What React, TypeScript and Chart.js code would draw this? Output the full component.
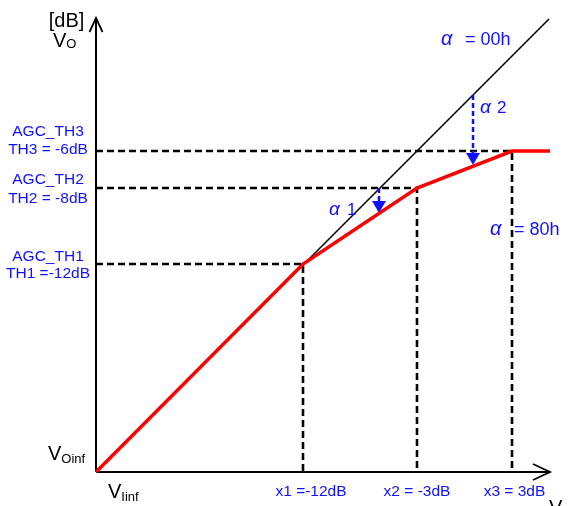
import React, { useEffect, useRef } from "react";
import { Chart, registerables } from "chart.js";

Chart.register(...registerables);

// Diagram units (origin = V_Iinf / V_Oinf)
const curveIn = [0, 207, 321, 416, 454];
const curveOut = [0, 208, 284, 321, 321];
const unityIn = [0, 453];
const unityOut = [0, 453];
const kneeIn = [207, 321, 416];
const kneeOut = [208, 284, 321];
const kneeLabels = ["x1 =-12dB", "x2 = -3dB", "x3 = 3dB"];
const thNames = ["AGC_TH1", "AGC_TH2", "AGC_TH3"];
const thLabels = ["TH1 =-12dB", "TH2 = -8dB", "TH3 = -6dB"];
const alphaX = [283, 377];
const alphaTop = [284, 377];
const alphaTip = [259, 307];
const alphaNames = ["1", "2"];
const alphaSettings = ["= 00h", "= 80h"];
const axisLen = 454;

const BLUE = "#1010ff";
const SANS = "'Liberation Sans', Arial, sans-serif";

type Lbl = {
  t: string;
  x: number;
  y: number;
  size: number;
  color: string;
  align?: CanvasTextAlign;
  italic?: boolean;
  sub?: string;
  subSize?: number;
  subDy?: number;
};

const labels: Lbl[] = [
  { t: "[dB]", x: -29.5, y: 445, size: 20, color: "#000", align: "center" },
  { t: "V", x: -43, y: 425, size: 20, color: "#000", sub: "O", subSize: 13, subDy: 1 },
  { t: "V", x: -48, y: 12, size: 20, color: "#000", sub: "Oinf", subSize: 13, subDy: 3 },
  { t: "V", x: 12, y: -26, size: 20, color: "#000", sub: "Iinf", subSize: 13, subDy: 3 },
  { t: "V", x: 453, y: -42, size: 20, color: "#000", sub: "I", subSize: 13, subDy: 3 },
  { t: thNames[0], x: -48, y: 211, size: 15.5, color: BLUE, align: "center" },
  { t: thLabels[0], x: -48, y: 194, size: 15.5, color: BLUE, align: "center" },
  { t: thNames[1], x: -48, y: 288, size: 15.5, color: BLUE, align: "center" },
  { t: thLabels[1], x: -48, y: 269, size: 15.5, color: BLUE, align: "center" },
  { t: thNames[2], x: -48, y: 336, size: 15.5, color: BLUE, align: "center" },
  { t: thLabels[2], x: -48, y: 318, size: 15.5, color: BLUE, align: "center" },
  { t: kneeLabels[0], x: 215, y: -24, size: 15.5, color: BLUE, align: "center" },
  { t: kneeLabels[1], x: 321, y: -24, size: 15.5, color: BLUE, align: "center" },
  { t: kneeLabels[2], x: 418.5, y: -24, size: 15.5, color: BLUE, align: "center" },
  { t: "α", x: 345, y: 427, size: 20, color: BLUE, italic: true },
  { t: alphaSettings[0], x: 369, y: 427, size: 18, color: BLUE },
  { t: "α", x: 384, y: 359, size: 19, color: BLUE, italic: true },
  { t: alphaNames[1], x: 401, y: 359, size: 17, color: BLUE },
  { t: "α", x: 233, y: 257, size: 19, color: BLUE, italic: true },
  { t: alphaNames[0], x: 251, y: 257, size: 17, color: BLUE },
  { t: "α", x: 394, y: 237, size: 20, color: BLUE, italic: true },
  { t: alphaSettings[1], x: 418, y: 237, size: 18, color: BLUE },
];

const textPlugin = {
  id: "diagramText",
  afterDatasetsDraw(chart: any) {
    const { ctx, scales } = chart;
    ctx.save();
    ctx.textBaseline = "alphabetic";
    for (const l of labels) {
      const px = scales.x.getPixelForValue(l.x);
      const py = scales.y.getPixelForValue(l.y);
      ctx.fillStyle = l.color;
      ctx.textAlign = l.align || "left";
      ctx.font = `${l.italic ? "italic " : ""}${l.size}px ${SANS}`;
      ctx.fillText(l.t, px, py);
      if (l.sub) {
        const w = ctx.measureText(l.t).width;
        ctx.font = `${l.subSize}px ${SANS}`;
        ctx.textAlign = "left";
        ctx.fillText(l.sub, px + w, py + (l.subDy || 0));
      }
    }
    ctx.restore();
  },
};

const line = (pts: { x: number; y: number }[], color: string, width: number, order: number, dash: number[] = []) => ({
  type: "line" as const,
  data: pts,
  borderColor: color,
  borderWidth: width,
  borderDash: dash,
  pointRadius: 0,
  fill: false,
  tension: 0,
  order,
});

export default function App() {
  const ref = useRef<HTMLCanvasElement>(null);
  useEffect(() => {
    if (!ref.current) return;
    const datasets: any[] = [];
    datasets.push(line(curveIn.map((x, i) => ({ x, y: curveOut[i] })), "#ff0000", 3.5, 0));
    alphaX.forEach((x, i) => {
      const r = 8;
      datasets.push(line([{ x, y: alphaTop[i] }, { x, y: alphaTip[i] + r * 1.5 }], BLUE, 2.5, 1, [5, 3]));
      datasets.push({
        type: "line",
        data: [{ x, y: alphaTip[i] + r }],
        showLine: false,
        pointStyle: "triangle",
        rotation: 180,
        pointRadius: r,
        pointBackgroundColor: BLUE,
        pointBorderWidth: 0,
        borderColor: BLUE,
        order: 1,
      });
    });
    datasets.push(line(unityIn.map((x, i) => ({ x, y: unityOut[i] })), "#000", 1.6, 2));
    datasets.push(line([{ x: 0, y: 0 }, { x: 0, y: axisLen }], "#000", 2, 3));
    datasets.push(line([{ x: 0, y: 0 }, { x: axisLen, y: 0 }], "#000", 2, 3));
    datasets.push(line([{ x: -6.5, y: axisLen - 14 }, { x: 0, y: axisLen }, { x: 6.5, y: axisLen - 14 }], "#000", 1.8, 3));
    datasets.push(line([{ x: axisLen - 17, y: 8 }, { x: axisLen, y: 0 }, { x: axisLen - 17, y: -8 }], "#000", 1.8, 3));
    kneeIn.forEach((x, i) => {
      const y = kneeOut[i];
      datasets.push(line([{ x: 0, y }, { x, y }, { x, y: 0 }], "#000", 2.6, 4, [7, 4]));
    });

    const chart = new Chart(ref.current, {
      type: "line",
      data: { datasets },
      options: {
        responsive: false,
        maintainAspectRatio: false,
        devicePixelRatio: 1,
        animation: false,
        layout: { padding: 0, autoPadding: false },
        plugins: { legend: { display: false }, tooltip: { enabled: false }, title: { display: false } },
        events: [],
        scales: {
          x: { type: "linear", min: -96, max: 474, display: false },
          y: { type: "linear", min: -34, max: 472, display: false },
        },
      },
      plugins: [textPlugin],
    } as any);
    return () => chart.destroy();
  }, []);

  return (
    <div style={{ position: "fixed", left: 0, top: 0, width: 570, height: 506, background: "#fff" }}>
      <canvas ref={ref} width={570} height={506} style={{ display: "block" }} />
    </div>
  );
}
